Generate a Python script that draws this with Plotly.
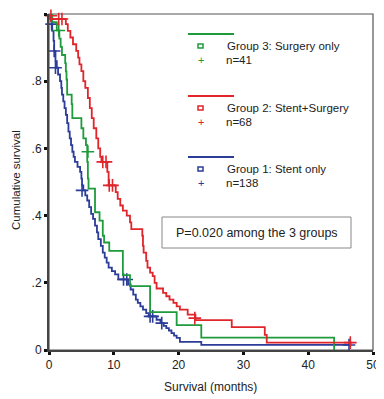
import plotly.graph_objects as go

# ---- data ----
g3_t = [0, 0.5, 1.2, 1.6, 1.8, 2.0, 2.5, 2.6, 2.7, 2.8, 3.5, 3.6, 5.0, 5.3, 5.7, 5.9, 6.0, 6.1, 7.1, 7.8, 8.3, 8.5, 9.3, 11.4, 12.5, 15.6, 19.7, 23.5, 44.0, 44.0]
g3_s = [1.0, 0.976, 0.951, 0.927, 0.902, 0.878, 0.854, 0.829, 0.805, 0.76, 0.732, 0.69, 0.66, 0.63, 0.61, 0.56, 0.51, 0.48, 0.41, 0.385, 0.34, 0.32, 0.295, 0.223, 0.19, 0.113, 0.074, 0.037, 0.0, 0.0]
g3_ct = [1.5, 6.0]
g3_cs = [0.951, 0.59]

g2_t = [0, 0.3, 2.6, 2.9, 3.3, 3.7, 4.2, 4.5, 4.7, 5.0, 5.3, 5.6, 6.0, 6.3, 6.6, 6.9, 7.3, 7.6, 7.9, 8.1, 9.0, 9.2, 10.3, 10.6, 11.0, 11.4, 12.0, 12.5, 12.7, 14.4, 14.5, 14.6, 15.0, 15.2, 15.6, 16.0, 16.3, 16.6, 17.6, 18.1, 18.6, 19.2, 19.7, 20.2, 21.4, 22.6, 28.2, 33.3, 33.6, 46.8]
g2_s = [1.0, 0.985, 0.97, 0.95, 0.93, 0.91, 0.89, 0.87, 0.85, 0.83, 0.80, 0.78, 0.75, 0.72, 0.69, 0.66, 0.63, 0.60, 0.575, 0.56, 0.53, 0.49, 0.47, 0.45, 0.43, 0.415, 0.40, 0.38, 0.36, 0.34, 0.31, 0.29, 0.265, 0.245, 0.23, 0.22, 0.20, 0.183, 0.17, 0.16, 0.15, 0.14, 0.13, 0.12, 0.105, 0.089, 0.068, 0.045, 0.022, 0.022]
g2_ct = [0.3, 1.5, 2.0, 8.3, 8.8, 9.3, 9.8, 22.5, 46.5]
g2_cs = [0.995, 0.985, 0.985, 0.56, 0.56, 0.49, 0.49, 0.095, 0.022]

g1_t = [0, 0.2, 0.4, 0.5, 0.7, 0.8, 1.0, 1.2, 1.4, 1.7, 1.9, 2.0, 2.2, 2.4, 2.6, 2.8, 3.0, 3.2, 3.4, 3.6, 3.8, 4.0, 4.4, 4.8, 5.0, 5.1, 5.3, 5.6, 5.9, 6.2, 6.5, 6.8, 7.1, 7.4, 7.6, 8.0, 8.3, 8.6, 8.9, 9.2, 9.7, 10.2, 10.7, 12.2, 12.6, 13.0, 13.4, 13.7, 14.1, 14.5, 15.0, 15.4, 16.6, 17.2, 17.7, 18.1, 18.5, 18.9, 19.3, 19.7, 20.2, 23.5, 46.3]
g1_s = [1.0, 0.985, 0.97, 0.95, 0.92, 0.89, 0.86, 0.84, 0.82, 0.80, 0.78, 0.76, 0.74, 0.72, 0.70, 0.675, 0.65, 0.63, 0.61, 0.59, 0.575, 0.56, 0.545, 0.53, 0.51, 0.49, 0.475, 0.46, 0.445, 0.425, 0.405, 0.39, 0.37, 0.35, 0.33, 0.31, 0.29, 0.275, 0.26, 0.245, 0.235, 0.225, 0.21, 0.195, 0.18, 0.165, 0.15, 0.14, 0.13, 0.12, 0.11, 0.10, 0.09, 0.08, 0.072, 0.065, 0.058, 0.05, 0.043, 0.036, 0.024, 0.015, 0.015]
g1_ct = [0.4, 0.8, 1.0, 5.1, 11.5, 12.0, 15.6, 16.0, 17.4, 46.3]
g1_cs = [0.97, 0.89, 0.84, 0.475, 0.21, 0.21, 0.10, 0.10, 0.08, 0.015]

y_tickvals = [0, 0.2, 0.4, 0.6, 0.8, 1.0]
y_ticktext = ["0", ".2", ".4", ".6", ".8", "1.0"]
x_tickvals = [0, 10, 20, 30, 40, 50]

legend_labels = ["Group 3: Surgery only", "Group 2: Stent+Surgery", "Group 1: Stent only"]
legend_n = ["n=41", "n=68", "n=138"]
p_text = "P=0.020 among the 3 groups"
x_title = "Survival (months)"
y_title = "Cumulative survival"

GREEN = "#1f9a3c"
RED = "#e0252b"
BLUE = "#2b3c99"
FONT = "Liberation Sans, Arial, sans-serif"

# ---- layout geometry ----
# page pixels (the page body adds an 8px offset to the figure)
OFF = 8
W, H = 376, 391
L, R, T, B = 49, 373, 14, 350   # plot area in page pixels


def px(xpix):
    return (xpix - L) / (R - L)


def py(ypix):
    return (B - ypix) / (B - T)


fig = go.Figure()
for t, s, ct, cs, col in [(g1_t, g1_s, g1_ct, g1_cs, BLUE),
                          (g3_t, g3_s, g3_ct, g3_cs, GREEN),
                          (g2_t, g2_s, g2_ct, g2_cs, RED)]:
    fig.add_trace(go.Scatter(x=t, y=s, mode="lines", line=dict(color=col, width=1.8, shape="hv"),
                             showlegend=False, hoverinfo="skip", cliponaxis=False))
    fig.add_trace(go.Scatter(x=ct, y=cs, mode="markers",
                             marker=dict(symbol="cross-thin", size=9, line=dict(color=col, width=1.6)),
                             showlegend=False, hoverinfo="skip", cliponaxis=False))

shapes = []
annotations = []
shapes.append(dict(type="rect", xref="paper", yref="paper", x0=0, x1=1, y0=0, y1=1,
                   line=dict(color="#555555", width=1.2), layer="below"))

legend_rows = [(34, GREEN), (96, RED), (157, BLUE)]
for i, (ly, col) in enumerate(legend_rows):
    shapes.append(dict(type="line", xref="paper", yref="paper", x0=px(188), x1=px(234),
                       y0=py(ly), y1=py(ly), line=dict(color=col, width=1.8)))
    shapes.append(dict(type="rect", xref="paper", yref="paper", x0=px(198), x1=px(203),
                       y0=py(ly + 14), y1=py(ly + 10), line=dict(color=col, width=1.5)))
    annotations.append(dict(xref="paper", yref="paper", x=px(225), y=py(ly + 12), text=legend_labels[i],
                            showarrow=False, xanchor="left", yanchor="middle",
                            font=dict(family=FONT, size=11.5, color="#222222")))
    annotations.append(dict(xref="paper", yref="paper", x=px(224), y=py(ly + 26), text=legend_n[i],
                            showarrow=False, xanchor="left", yanchor="middle",
                            font=dict(family=FONT, size=11.5, color="#222222")))
    annotations.append(dict(xref="paper", yref="paper", x=px(200.5), y=py(ly + 26), text="+",
                            showarrow=False, xanchor="center", yanchor="middle",
                            font=dict(family=FONT, size=11, color=col)))

shapes.append(dict(type="rect", xref="paper", yref="paper", x0=px(162), x1=px(351),
                   y0=py(248), y1=py(217), line=dict(color="#888888", width=1), fillcolor="white"))
annotations.append(dict(xref="paper", yref="paper", x=px(256.5), y=py(232.5), text=p_text,
                        showarrow=False, xanchor="center", yanchor="middle",
                        font=dict(family=FONT, size=12.5, color="#222222")))

annotations.append(dict(xref="paper", yref="paper", x=px(210), y=py(387), text=x_title,
                        showarrow=False, xanchor="center", yanchor="middle",
                        font=dict(family=FONT, size=12, color="#222222")))
annotations.append(dict(xref="paper", yref="paper", x=px(16), y=py(180), text=y_title, textangle=-90,
                        showarrow=False, xanchor="center", yanchor="middle", borderpad=0,
                        font=dict(family=FONT, size=11.5, color="#222222")))

fig.update_layout(
    width=W, height=H,
    margin=dict(l=L - OFF, r=W - (R - OFF), t=T - OFF, b=H - (B - OFF), autoexpand=False),
    paper_bgcolor="white", plot_bgcolor="white",
    font=dict(family=FONT, size=11, color="#222222"),
    shapes=shapes, annotations=annotations,
    xaxis=dict(range=[0, 50], tickvals=x_tickvals, showgrid=False, zeroline=False, automargin=False,
               showline=True, linecolor="#444444", linewidth=2,
               ticks="outside", ticklen=3, tickwidth=3, tickcolor="#111111",
               tickfont=dict(size=12)),
    yaxis=dict(range=[0, 1.0], tickvals=y_tickvals, ticktext=y_ticktext, showgrid=False, zeroline=False,
               automargin=False,
               showline=True, linecolor="#444444", linewidth=2,
               ticks="outside", ticklen=3, tickwidth=3, tickcolor="#111111",
               tickfont=dict(size=12)),
)

fig.write_html("out.html")
